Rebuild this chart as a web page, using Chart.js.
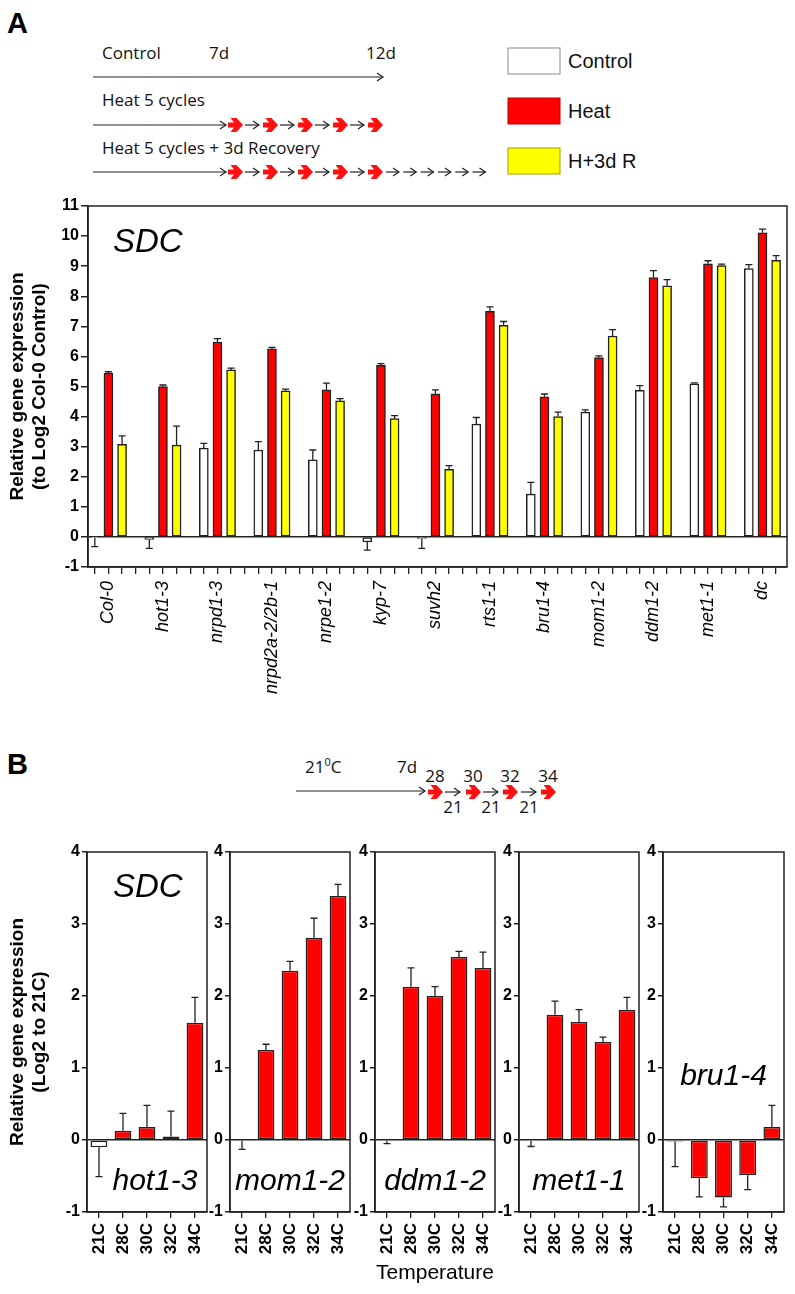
<!DOCTYPE html>
<html>
<head>
<meta charset="utf-8">
<script src="https://cdn.jsdelivr.net/npm/chart.js@4.4.1/dist/chart.umd.min.js"></script>
<style>
  html, body { margin: 0; padding: 0; background: #fff; }
  #page { position: relative; width: 795px; height: 1294px; overflow: hidden; }
  .holder { position: absolute; }
  #schematic { position: absolute; left: 0; top: 0; }
</style>
</head>
<body>
<div id="page">
  <svg id="schematic" width="795" height="1294"></svg>
  <div class="holder" style="left:0;top:190px"><canvas id="chartA" width="795" height="520"></canvas></div>
</div>
<script>
// ---------- Panel A data ----------
const genotypes = ['Col-0', 'hot1-3', 'nrpd1-3', 'nrpd2a-2/2b-1', 'nrpe1-2', 'kyp-7', 'suvh2',
  'rts1-1', 'bru1-4', 'mom1-2', 'ddm1-2', 'met1-1', 'dc'];
const seriesNames = ['Control', 'Heat', 'H+3d R'];
const seriesColors = ['#ffffff', '#ff0000', '#ffff00'];
const legendBorders = ['#8a8a8a', '#c00000', '#a0a000'];

const controlValues = [-0.02, -0.08, 2.95, 2.89, 2.56, -0.17, -0.05, 3.75, 1.42, 4.15, 4.87, 5.09, 8.92];
const controlErrors = [0.30, 0.30, 0.16, 0.28, 0.33, 0.27, 0.33, 0.22, 0.39, 0.07, 0.16, 0.03, 0.13];
const heatValues = [5.45, 5.00, 6.48, 6.25, 4.89, 5.70, 4.76, 7.50, 4.66, 5.96, 8.62, 9.08, 10.11];
const heatErrors = [0.04, 0.05, 0.11, 0.05, 0.22, 0.06, 0.13, 0.15, 0.09, 0.06, 0.23, 0.10, 0.12];
const recoveryValues = [3.08, 3.05, 5.55, 4.86, 4.52, 3.93, 2.25, 7.03, 4.00, 6.68, 8.35, 9.02, 9.19];
const recoveryErrors = [0.28, 0.63, 0.06, 0.05, 0.08, 0.10, 0.12, 0.13, 0.15, 0.21, 0.20, 0.05, 0.16];

// ---------- Panel B data ----------
const temperatures = ['21C', '28C', '30C', '32C', '34C'];
const tempBarColors = ['#ffffff', '#ff0000', '#ff0000', '#ff0000', '#ff0000'];
const hot13Values = [-0.10, 0.13, 0.18, 0.05, 1.63];
const hot13Errors = [0.41, 0.24, 0.30, 0.35, 0.35];
const mom12Values = [-0.01, 1.25, 2.35, 2.81, 3.39];
const mom12Errors = [0.12, 0.08, 0.13, 0.27, 0.16];
const ddm12Values = [-0.01, 2.13, 2.00, 2.54, 2.39];
const ddm12Errors = [0.04, 0.26, 0.13, 0.08, 0.22];
const met11Values = [-0.01, 1.74, 1.64, 1.36, 1.81];
const met11Errors = [0.08, 0.19, 0.17, 0.07, 0.17];
const bru14Values = [-0.02, -0.53, -0.80, -0.49, 0.18];
const bru14Errors = [0.35, 0.26, 0.13, 0.20, 0.30];

const INK = '#222';
Chart.defaults.font.family = '"Liberation Sans", Arial, sans-serif';
Chart.defaults.color = '#000';

// ============================================
// PLUGINS
// ============================================
// one-sided error bars (direction follows the bar sign)
const errorBars = {
  id: 'errorBars',
  afterDatasetsDraw(chart) {
    const ctx = chart.ctx;
    const yScale = chart.scales.y;
    chart.data.datasets.forEach((ds, i) => {
      if (!ds.errors) return;
      const meta = chart.getDatasetMeta(i);
      meta.data.forEach((bar, j) => {
        const v = meta.controller.getParsed(j).y;
        const err = ds.errors[j];
        const end = yScale.getPixelForValue(v + (v < 0 ? -err : err));
        ctx.save();
        ctx.strokeStyle = INK;
        ctx.lineWidth = 1.3;
        ctx.beginPath();
        ctx.moveTo(bar.x, bar.y);
        ctx.lineTo(bar.x, end);
        ctx.moveTo(bar.x - 3.5, end);
        ctx.lineTo(bar.x + 3.5, end);
        ctx.stroke();
        ctx.restore();
      });
    });
  }
};

// closed frame round the plot area
const frame = {
  id: 'frame',
  afterDraw(chart) {
    const a = chart.chartArea;
    const ctx = chart.ctx;
    ctx.save();
    ctx.strokeStyle = INK;
    ctx.lineWidth = 1.5;
    ctx.strokeRect(a.left, a.top, a.right - a.left, a.bottom - a.top);
    ctx.restore();
  }
};

// italic gene names inside the plot area
const panelText = {
  id: 'panelText',
  afterDraw(chart, args, opts) {
    const a = chart.chartArea;
    const ctx = chart.ctx;
    (opts.items || []).forEach(it => {
      ctx.save();
      ctx.font = `italic ${it.size}px "Liberation Sans", Arial, sans-serif`;
      ctx.fillStyle = '#000';
      ctx.textAlign = it.align || 'left';
      ctx.textBaseline = 'alphabetic';
      const x = it.align === 'center' ? (a.left + a.right) / 2 + (it.dx || 0) : a.left + it.dx;
      ctx.fillText(it.text, x, a.top + it.dy);
      ctx.restore();
    });
  }
};

// keep rotated labels from shrinking the plot area sideways
function fixHeight(h) {
  return s => { s.height = h; s.paddingLeft = 0; s.paddingRight = 0; };
}

// ============================================
// PANEL A CHART
// ============================================
const slotsPerGroup = 4;
function toPoints(values, slot) {
  return values.map((v, i) => ({ x: i * slotsPerGroup + slot, y: v }));
}
const seriesValues = [controlValues, heatValues, recoveryValues];
const seriesErrors = [controlErrors, heatErrors, recoveryErrors];

new Chart(document.getElementById('chartA'), {
  type: 'bar',
  data: {
    datasets: seriesNames.map((name, k) => ({
      label: name,
      data: toPoints(seriesValues[k], k),
      errors: seriesErrors[k],
      backgroundColor: seriesColors[k],
      borderColor: INK,
      borderWidth: 1.5,
      borderSkipped: false,
      grouped: false,
      barThickness: 9
    }))
  },
  options: {
    responsive: false,
    animation: false,
    layout: { padding: { top: 16, right: 8, left: 0, bottom: 0 } },
    plugins: {
      legend: { display: false },
      tooltip: { enabled: false },
      panelText: { items: [{ text: 'SDC', size: 33, dx: 25, dy: 46 }] }
    },
    scales: {
      x: {
        type: 'linear',
        min: -0.5,
        max: 50.8,
        offset: false,
        afterFit: fixHeight(143),
        grid: { drawOnChartArea: false, offset: false, tickLength: 7, tickColor: INK, color: INK, lineWidth: 1.3 },
        border: { color: INK, width: 1.5 },
        ticks: {
          stepSize: 1,
          includeBounds: false,
          autoSkip: false,
          minRotation: 90,
          maxRotation: 90,
          padding: 7,
          font: { size: 18, style: 'italic' },
          callback: v => (v % slotsPerGroup === 1) ? genotypes[(v - 1) / slotsPerGroup] : ''
        }
      },
      y: {
        min: -1,
        max: 11,
        afterFit(s) { s.width = 88; },
        ticks: { stepSize: 1, padding: 2, font: { size: 16, weight: 'bold' } },
        grid: {
          color: c => (c.tick && c.tick.value === 0) ? INK : 'rgba(0,0,0,0)',
          tickColor: INK, tickLength: 7, lineWidth: 1.5
        },
        border: { color: INK, width: 1.5 },
        title: {
          display: true,
          text: ['Relative gene expression', '(to Log2 Col-0 Control)'],
          font: { size: 19, weight: 'bold' },
          padding: { top: 6, bottom: 0 }
        }
      }
    }
  },
  plugins: [errorBars, frame, panelText]
});

// ============================================
// PANEL B CHARTS
// ============================================
const panelsB = [
  { gene: 'hot1-3', values: hot13Values, errors: hot13Errors, left: 0, yWidth: 87, width: 210,
    texts: [{ text: 'SDC', size: 33, dx: 26, dy: 45 }, { text: 'hot1-3', size: 30, align: 'center', dx: 8, dy: 338 }] },
  { gene: 'mom1-2', values: mom12Values, errors: mom12Errors, left: 200, yWidth: 30, width: 153,
    texts: [{ text: 'mom1-2', size: 30, align: 'center', dx: 0, dy: 338 }] },
  { gene: 'ddm1-2', values: ddm12Values, errors: ddm12Errors, left: 345, yWidth: 30, width: 153,
    texts: [{ text: 'ddm1-2', size: 30, align: 'center', dx: 0, dy: 338 }], xTitle: 'Temperature' },
  { gene: 'met1-1', values: met11Values, errors: met11Errors, left: 489, yWidth: 30, width: 153,
    texts: [{ text: 'met1-1', size: 30, align: 'center', dx: 0, dy: 338 }] },
  { gene: 'bru1-4', values: bru14Values, errors: bru14Errors, left: 633, yWidth: 30, width: 154,
    texts: [{ text: 'bru1-4', size: 30, align: 'center', dx: 0, dy: 233 }] }
];

const page = document.getElementById('page');
panelsB.forEach((p, idx) => {
  const holder = document.createElement('div');
  holder.className = 'holder';
  holder.style.left = p.left + 'px';
  holder.style.top = '830px';
  const canvas = document.createElement('canvas');
  canvas.width = p.width;
  canvas.height = 464;
  holder.appendChild(canvas);
  page.appendChild(holder);

  new Chart(canvas, {
    type: 'bar',
    data: {
      labels: temperatures,
      datasets: [{
        label: p.gene,
        data: p.values,
        errors: p.errors,
        backgroundColor: tempBarColors,
        borderColor: INK,
        borderWidth: 1.5,
        borderSkipped: false,
        barPercentage: 0.7,
        categoryPercentage: 1.0
      }]
    },
    options: {
      responsive: false,
      animation: false,
      layout: { padding: { top: 22, right: 3, left: 0, bottom: 0 } },
      plugins: {
        legend: { display: false },
        tooltip: { enabled: false },
        panelText: { items: p.texts }
      },
      scales: {
        x: {
          afterFit: fixHeight(82),
          grid: { drawOnChartArea: false, offset: false, tickLength: 6, tickColor: INK, color: INK, lineWidth: 1.3 },
          border: { color: INK, width: 1.5 },
          ticks: { autoSkip: false, minRotation: 90, maxRotation: 90, padding: 5, font: { size: 17, weight: 'bold' } },
          title: {
            display: !!p.xTitle,
            text: p.xTitle || '',
            font: { size: 21 },
            padding: { top: 0, bottom: 8 }
          }
        },
        y: {
          min: -1,
          max: 4,
          afterFit(s) { s.width = p.yWidth; },
          ticks: { stepSize: 1, padding: 2, font: { size: 16, weight: 'bold' } },
          grid: {
            color: c => (c.tick && c.tick.value === 0) ? INK : 'rgba(0,0,0,0)',
            tickColor: INK, tickLength: 5, lineWidth: 1.5
          },
          border: { color: INK, width: 1.5 },
          title: {
            display: idx === 0,
            text: ['Relative gene expression', '(Log2 to 21C)'],
            font: { size: 19, weight: 'bold' },
            padding: { top: 6, bottom: 0 }
          }
        }
      }
    },
    plugins: [errorBars, frame, panelText]
  });
});

// ============================================
// SCHEMATICS, LEGEND, PANEL LETTERS
// ============================================
const svg = document.getElementById('schematic');
const NS = 'http://www.w3.org/2000/svg';
function el(tag, attrs, text) {
  const e = document.createElementNS(NS, tag);
  for (const k in attrs) e.setAttribute(k, attrs[k]);
  if (text != null) e.textContent = text;
  svg.appendChild(e);
  return e;
}
const schemFont = '"Open Sans", "Noto Sans", sans-serif';
function label(x, y, text, size, anchor) {
  return el('text', { x, y, 'font-family': schemFont, 'font-size': size || 17, fill: '#111', 'text-anchor': anchor || 'start' }, text);
}
function thinArrow(x1, x2, y) {
  el('line', { x1, y1: y, x2, y2: y, stroke: INK, 'stroke-width': 1.2 });
  el('polyline', { points: `${x2 - 6},${y - 4} ${x2},${y} ${x2 - 6},${y + 4}`, fill: 'none', stroke: INK, 'stroke-width': 1.2 });
}
function redArrow(x, y) {
  const pts = [[0, -2.6], [6, -2.6], [2.5, -7], [8.5, -7], [15, 0], [8.5, 7], [2.5, 7], [6, 2.6], [0, 2.6]];
  el('polygon', { points: pts.map(p => `${x + p[0]},${y + p[1]}`).join(' '), fill: '#ff1010' });
}

// panel letters
el('text', { x: 7, y: 33, 'font-family': '"Liberation Sans", Arial', 'font-size': 29, 'font-weight': 'bold' }, 'A');
el('text', { x: 7, y: 774, 'font-family': '"Liberation Sans", Arial', 'font-size': 29, 'font-weight': 'bold' }, 'B');

// panel A schematic
label(102, 59, 'Control');
label(209, 59, '7d');
label(366, 59, '12d');
thinArrow(93, 383, 77);
label(102, 106, 'Heat 5 cycles');
label(102, 154, 'Heat 5 cycles + 3d Recovery');
[125, 172].forEach((y, row) => {
  thinArrow(93, 226, y);
  for (let k = 0; k < 5; k++) {
    redArrow(228 + 35 * k, y);
    if (k < 4) thinArrow(245 + 35 * k, 259 + 35 * k, y);
  }
  if (row === 1) {
    for (let k = 0; k < 6; k++) thinArrow(386 + 17.3 * k, 399 + 17.3 * k, y);
  }
});

// legend
seriesNames.forEach((name, k) => {
  const y = 48 + 50 * k;
  el('rect', { x: 508, y, width: 52, height: 26, fill: seriesColors[k], stroke: legendBorders[k], 'stroke-width': 1 });
  el('text', { x: 568, y: y + 20, 'font-family': '"Liberation Sans", Arial', 'font-size': 20, fill: '#111' }, name);
});

// panel B schematic
const t21 = el('text', { x: 305, y: 773, 'font-family': schemFont, 'font-size': 17, fill: '#111' });
t21.innerHTML = '21<tspan font-size="11" dy="-7">0</tspan><tspan dy="7">C</tspan>';
label(397, 773, '7d');
thinArrow(296, 425, 791);
const heatSteps = ['28', '30', '32', '34'];
const redX = [428, 466, 503, 541];
const thinX = [445, 483, 521];
heatSteps.forEach((t, k) => {
  redArrow(redX[k], 792);
  label(redX[k] + 7, 782, t, 17, 'middle');
  if (k < 3) {
    thinArrow(thinX[k], thinX[k] + 15, 792);
    label(thinX[k] + 8, 813, '21', 17, 'middle');
  }
});
</script>
</body>
</html>
